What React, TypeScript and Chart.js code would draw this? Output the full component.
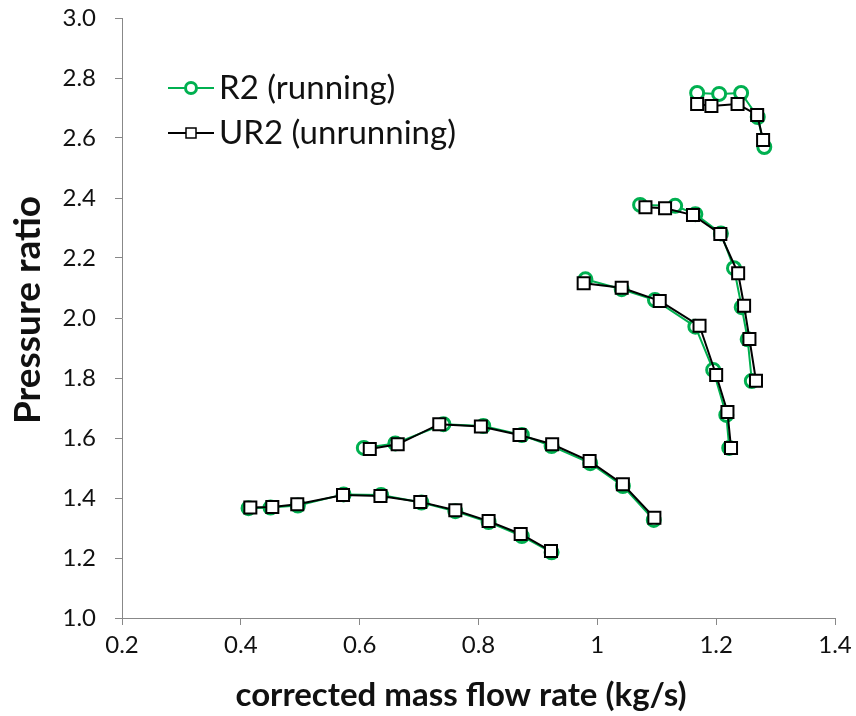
import React, { useEffect, useRef } from "react";
import { Chart, registerables } from "chart.js";
Chart.register(...registerables);

const xTickValues = [0.2, 0.4, 0.6, 0.8, 1.0, 1.2, 1.4];
const yTickValues = [1.0, 1.2, 1.4, 1.6, 1.8, 2.0, 2.2, 2.4, 2.6, 2.8, 3.0];

const seriesNames = ["R2 (running)", "UR2 (unrunning)"];
const xTitle = "corrected mass flow rate (kg/s)";
const yTitle = "Pressure ratio";

// R2 (running) speed lines
const r2Flow = [
  [0.413, 0.45, 0.496, 0.573, 0.636, 0.704, 0.761, 0.817, 0.873, 0.923],
  [0.607, 0.66, 0.741, 0.808, 0.873, 0.923, 0.988, 1.043, 1.095],
  [0.98, 1.041, 1.097, 1.165, 1.195, 1.217, 1.222],
  [1.072, 1.131, 1.165, 1.208, 1.23, 1.243, 1.253, 1.26],
  [1.168, 1.205, 1.242, 1.27, 1.281],
];
const r2Ratio = [
  [1.366, 1.368, 1.375, 1.412, 1.41, 1.385, 1.356, 1.32, 1.273, 1.219],
  [1.567, 1.582, 1.646, 1.64, 1.61, 1.573, 1.516, 1.44, 1.327],
  [2.129, 2.096, 2.06, 1.971, 1.827, 1.677, 1.567],
  [2.377, 2.374, 2.346, 2.282, 2.166, 2.036, 1.929, 1.79],
  [2.75, 2.747, 2.75, 2.67, 2.57],
];

// UR2 (unrunning) speed lines
const ur2Flow = [
  [0.416, 0.453, 0.495, 0.572, 0.635, 0.702, 0.761, 0.817, 0.871, 0.922],
  [0.617, 0.664, 0.734, 0.804, 0.869, 0.924, 0.987, 1.043, 1.096],
  [0.977, 1.041, 1.105, 1.172, 1.2, 1.219, 1.225],
  [1.081, 1.114, 1.161, 1.207, 1.237, 1.247, 1.256, 1.267],
  [1.168, 1.192, 1.236, 1.269, 1.279],
];
const ur2Ratio = [
  [1.368, 1.37, 1.379, 1.41, 1.407, 1.387, 1.359, 1.323, 1.28, 1.223],
  [1.563, 1.579, 1.646, 1.638, 1.61, 1.579, 1.523, 1.446, 1.334],
  [2.116, 2.101, 2.057, 1.974, 1.81, 1.687, 1.567],
  [2.369, 2.366, 2.343, 2.28, 2.149, 2.041, 1.93, 1.791],
  [2.713, 2.707, 2.713, 2.677, 2.593],
];

const GREEN = "#00B050";
const FONT = "Lato, 'Open Sans', sans-serif";

function buildPoints(xs: number[][], ys: number[][]) {
  const pts: { x: number; y: number | null }[] = [];
  xs.forEach((line, i) => {
    line.forEach((x, j) => pts.push({ x, y: ys[i][j] }));
    if (i < xs.length - 1) pts.push({ x: line[line.length - 1], y: null });
  });
  return pts;
}

const decorations = {
  id: "decorations",
  afterDraw(chart: any) {
    const ctx = chart.ctx;
    ctx.save();
    // legend inside plot
    const rows = [
      { y: 88, color: GREEN, kind: "circle", label: seriesNames[0] },
      { y: 133, color: "#000", kind: "rect", label: seriesNames[1] },
    ];
    rows.forEach((r) => {
      ctx.strokeStyle = r.color;
      ctx.lineWidth = 2;
      ctx.beginPath();
      ctx.moveTo(168, r.y);
      ctx.lineTo(214, r.y);
      ctx.stroke();
      ctx.fillStyle = "#fff";
      if (r.kind === "circle") {
        ctx.lineWidth = 3;
        ctx.beginPath();
        ctx.arc(191, r.y, 5.5, 0, Math.PI * 2);
        ctx.fill();
        ctx.stroke();
      } else {
        ctx.lineWidth = 1.5;
        ctx.fillRect(186, r.y - 5, 10, 10);
        ctx.strokeRect(186, r.y - 5, 10, 10);
      }
      ctx.fillStyle = "#111";
      ctx.font = `33px ${FONT}`;
      ctx.textBaseline = "middle";
      ctx.textAlign = "left";
      ctx.fillText(r.label, 219, r.y);
    });
    // axis titles
    ctx.fillStyle = "#111";
    ctx.textAlign = "center";
    ctx.textBaseline = "middle";
    ctx.font = `bold 33px ${FONT}`;
    ctx.fillText(xTitle, 461, 695);
    ctx.translate(28, 310);
    ctx.rotate(-Math.PI / 2);
    ctx.font = `bold 37px ${FONT}`;
    ctx.fillText(yTitle, 0, 0);
    ctx.restore();
  },
};

export default function App() {
  const ref = useRef<HTMLCanvasElement | null>(null);
  useEffect(() => {
    if (!ref.current) return;
    const chart = new Chart(ref.current, {
      type: "line",
      data: {
        datasets: [
          {
            label: seriesNames[1],
            data: buildPoints(ur2Flow, ur2Ratio),
            borderColor: "#000",
            borderWidth: 2,
            pointStyle: "rect",
            pointRadius: 8.5,
            pointBorderWidth: 2,
            pointBackgroundColor: "#fff",
            pointBorderColor: "#000",
            spanGaps: false,
            order: 0,
          },
          {
            label: seriesNames[0],
            data: buildPoints(r2Flow, r2Ratio),
            borderColor: GREEN,
            borderWidth: 2,
            pointStyle: "circle",
            pointRadius: 6.5,
            pointBorderWidth: 3,
            pointBackgroundColor: "#fff",
            pointBorderColor: GREEN,
            spanGaps: false,
            order: 1,
          },
        ],
      },
      options: {
        responsive: false,
        animation: false,
        layout: { padding: { left: 0, right: 21, top: 18, bottom: 0 } },
        plugins: { legend: { display: false }, tooltip: { enabled: false } },
        scales: {
          x: {
            type: "linear",
            min: 0.2,
            max: 1.4,
            afterFit: (s: any) => {
              s.height = 98;
              s.paddingLeft = 0;
              s.paddingRight = 0;
            },
            afterBuildTicks: (s: any) => {
              s.ticks = xTickValues.map((v) => ({ value: v }));
            },
            ticks: {
              color: "#111",
              font: { family: FONT, size: 24 },
              padding: 6,
              maxRotation: 0,
              callback: (v: any) => String(parseFloat(Number(v).toFixed(1))),
            },
            grid: { drawOnChartArea: false, drawTicks: true, tickLength: 7, color: "#888" },
            border: { display: true, color: "#888", width: 1 },
          },
          y: {
            type: "linear",
            min: 1,
            max: 3,
            afterFit: (s: any) => {
              s.width = 122;
              s.paddingTop = 0;
              s.paddingBottom = 0;
            },
            afterBuildTicks: (s: any) => {
              s.ticks = yTickValues.map((v) => ({ value: v }));
            },
            ticks: {
              color: "#111",
              font: { family: FONT, size: 24 },
              padding: 19,
              callback: (v: any) => Number(v).toFixed(1),
            },
            grid: { drawOnChartArea: false, drawTicks: true, tickLength: 7, color: "#888" },
            border: { display: true, color: "#888", width: 1 },
          },
        },
      },
      plugins: [decorations],
    });
    return () => chart.destroy();
  }, []);
  return (
    <div style={{ position: "absolute", left: 0, top: 0, width: 856, height: 716 }}>
      <canvas ref={ref} width={856} height={716} />
    </div>
  );
}
